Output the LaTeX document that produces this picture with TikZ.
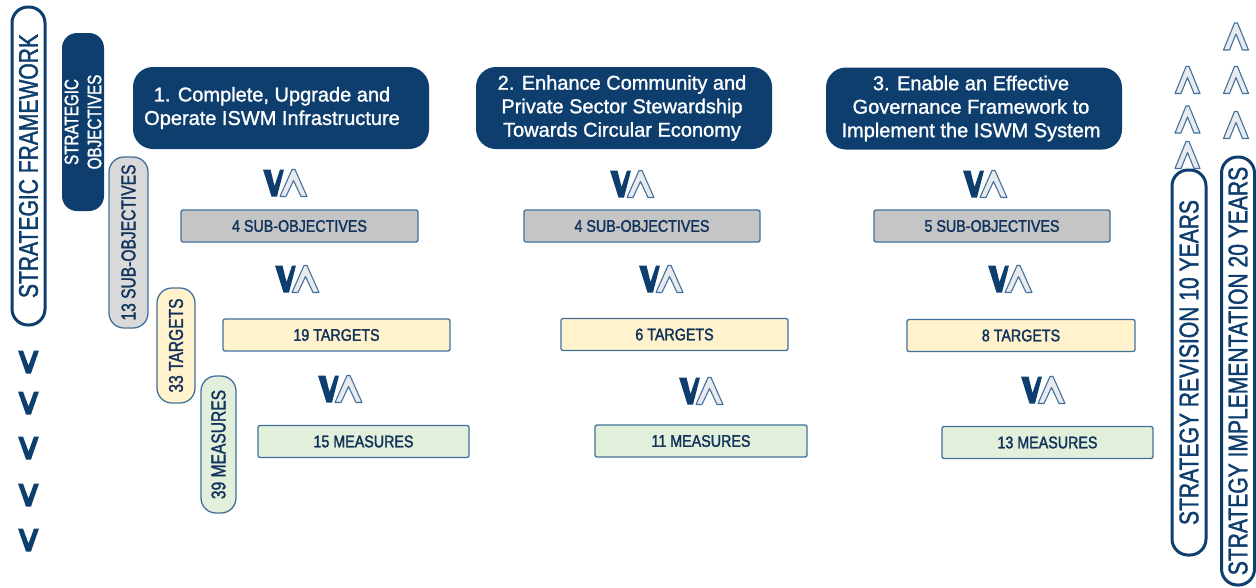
\documentclass[tikz,border=0pt]{standalone}
\usepackage{fontspec}
\setmainfont{Liberation Sans}
\newfontfamily\boxfont[FakeBold=1.2]{Liberation Sans}
\newfontfamily\narrowA[FakeStretch=0.78, FakeBold=1.4]{Liberation Sans}
\newfontfamily\narrowB[FakeStretch=0.85, FakeBold=1.8]{Liberation Sans}

\definecolor{navy}{RGB}{13,62,110}
\definecolor{edgeblue}{RGB}{65,113,156}
\definecolor{chevfill}{RGB}{232,234,238}
\definecolor{subgray}{RGB}{197,197,197}
\definecolor{pillgray}{RGB}{217,217,217}
\definecolor{tgtyellow}{RGB}{255,242,204}
\definecolor{msrgreen}{RGB}{226,239,218}
\definecolor{labelblue}{RGB}{18,52,92}

\tikzset{
  objbox/.style={fill=navy, rounded corners=20pt, minimum width=296pt,
    minimum height=82pt, inner sep=0pt},
  objtext/.style={inner sep=0pt, text=white, align=center,
    font=\boxfont\fontsize{20}{23.5}\selectfont},
  bar/.style={draw=edgeblue, line width=1.3pt, rounded corners=2pt,
    minimum height=32pt, inner sep=0pt, text=labelblue,
    font=\narrowB\fontsize{16.8}{16.8}\selectfont},
  vpill/.style={rotate=90, rounded corners=15pt, inner sep=0pt,
    text=labelblue, align=center, font=\narrowA\fontsize{20}{23}\selectfont},
  spanpill/.style={rotate=90, draw=navy, line width=3pt, fill=white,
    rounded corners=16pt, inner sep=0pt, text=navy,
    font=\narrowA\fontsize{27}{27}\selectfont},
  pics/downchev/.style={code={
    \fill[navy] (-10.5,-11.5) -- (-5.5,-11.5) -- (0,3.5) -- (5.5,-11.5)
      -- (10.5,-11.5) -- (2.5,11.5) -- (-2.5,11.5) -- cycle;}},
  pics/upchev/.style={code={
    \filldraw[fill=chevfill, draw=edgeblue, line width=1.1pt, line join=round]
      (-12.5,13.5) -- (-1.5,-13.5) -- (1.5,-13.5) -- (12.5,13.5)
      -- (6.5,13.5) -- (0,-2.5) -- (-6.5,13.5) -- cycle;}},
  pics/vaicon/.style={code={
    \fill[navy] (-22,-13.5) -- (-14.5,-13.5) -- (-10.5,3) -- (-5,-13.5)
      -- (-1,-13.5) -- (-8,13.5) -- (-13.5,13.5) -- cycle;
    \filldraw[fill=chevfill, draw=edgeblue, line width=1.1pt, line join=round]
      (-5,13.5) -- (7,-13.5) -- (10,-13.5) -- (22,13.5) -- (16,13.5)
      -- (8.5,-2.5) -- (1,13.5) -- cycle;}}
}

\begin{document}
\begin{tikzpicture}[x=1pt, y=-1pt]
\fill[white] (0,0) rectangle (1256,587);
\useasboundingbox (0,0) rectangle (1256,587);

% framework and level pills on the left
\node[spanpill, minimum width=318pt, minimum height=33pt] (fw)
  at (28.5,166) {STRATEGIC FRAMEWORK};
\node[vpill, fill=navy, text=white, minimum width=178pt, minimum height=42pt,
  font=\narrowA\fontsize{19.5}{23}\selectfont] (objpill)
  at (83,122) {STRATEGIC\\OBJECTIVES};
\node[vpill, draw=edgeblue, line width=1.3pt, fill=pillgray,
  minimum width=171pt, minimum height=39pt] (subpill)
  at (128.5,242.5) {13 SUB-OBJECTIVES};
\node[vpill, draw=edgeblue, line width=1.3pt, fill=tgtyellow,
  minimum width=115pt, minimum height=38pt] (tgtpill)
  at (176,345.5) {33 TARGETS};
\node[vpill, draw=edgeblue, line width=1.3pt, fill=msrgreen,
  minimum width=137pt, minimum height=35pt] (msrpill)
  at (218.5,444.5) {39 MEASURES};

% downward chevrons under the framework
\foreach \yy in {362,403,448,495,540}
  \pic at (28.5,\yy) {downchev};

% strategic objectives
\node[objbox] (obj1) at (281,108) {};
\node[objtext] (obj1text) at ([xshift=-9pt]obj1.center)
  {1. Complete, Upgrade and\\Operate ISWM Infrastructure};
\node[objbox] (obj2) at (624,108) {};
\node[objtext] (obj2text) at ([xshift=-2pt]obj2.center)
  {2. Enhance Community and\\Private Sector Stewardship\\Towards Circular Economy};
\node[objbox] (obj3) at (974,108.5) {};
\node[objtext] (obj3text) at ([xshift=-3pt]obj3.center)
  {3. Enable an Effective\\Governance Framework to\\Implement the ISWM System};

% sub-objectives
\node[bar, fill=subgray, minimum width=237pt] (sub1) at (299.5,226) {4 SUB-OBJECTIVES};
\node[bar, fill=subgray, minimum width=236pt] (sub2) at (642,226) {4 SUB-OBJECTIVES};
\node[bar, fill=subgray, minimum width=236pt] (sub3) at (992,226) {5 SUB-OBJECTIVES};

% targets
\node[bar, fill=tgtyellow, minimum width=227pt] (tgt1) at (336.5,335) {19 TARGETS};
\node[bar, fill=tgtyellow, minimum width=227pt] (tgt2) at (674.5,334.5) {6 TARGETS};
\node[bar, fill=tgtyellow, minimum width=228pt] (tgt3) at (1021,335.5) {8 TARGETS};

% measures
\node[bar, fill=msrgreen, minimum width=211pt] (msr1) at (363.5,441.5) {15 MEASURES};
\node[bar, fill=msrgreen, minimum width=212pt] (msr2) at (701,441) {11 MEASURES};
\node[bar, fill=msrgreen, minimum width=211pt] (msr3) at (1047.5,442.5) {13 MEASURES};

% level-to-level icons
\pic at (285,183) {vaicon};
\pic at (632,184) {vaicon};
\pic at (985,184) {vaicon};
\pic at (297,279) {vaicon};
\pic at (661,279) {vaicon};
\pic at (1010,279) {vaicon};
\pic at (340,389) {vaicon};
\pic at (701,391) {vaicon};
\pic at (1043,390) {vaicon};

% time horizons on the right
\node[spanpill, minimum width=385pt, minimum height=34pt] (rev)
  at (1189,362.5) {STRATEGY REVISION 10 YEARS};
\node[spanpill, minimum width=428pt, minimum height=33pt] (impl)
  at (1238,371) {STRATEGY IMPLEMENTATION 20 YEARS};

\foreach \yy in {80,119.5,155}
  \pic at (1187.5,\yy) {upchev};
\foreach \yy in {36.5,80,125}
  \pic at (1236,\yy) {upchev};
\end{tikzpicture}
\end{document}
